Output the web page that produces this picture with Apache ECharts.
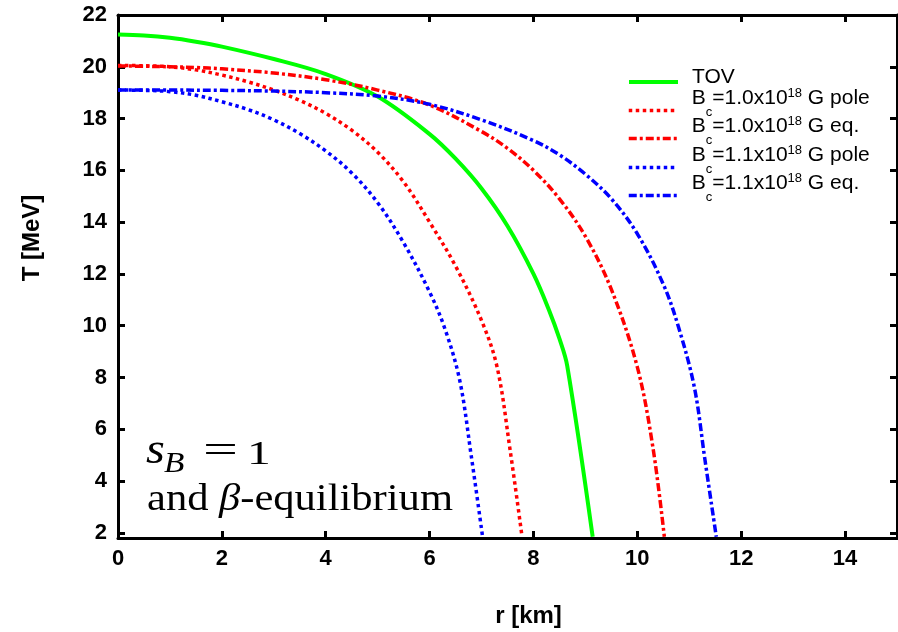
<!DOCTYPE html>
<html>
<head>
<meta charset="utf-8">
<script src="https://cdn.jsdelivr.net/npm/echarts@6/dist/echarts.min.js"></script>
<style>
  html, body { margin: 0; padding: 0; background: #fff; }
  #chart { width: 898px; height: 632px; }
</style>
</head>
<body>
<div id="chart"></div>
<script>
// Tick positions
const xTicks = [0, 2, 4, 6, 8, 10, 12, 14];
const yTicks = [2, 4, 6, 8, 10, 12, 14, 16, 18, 20, 22];

// Temperature profiles T(r): radius in km, temperature in MeV
const tovR = [0, 0.5, 1, 1.5, 2, 3, 4, 5, 6, 6.5, 7, 7.5, 8, 8.3, 8.5, 8.65, 9.14];
const tovT = [21.25, 21.21, 21.12, 20.97, 20.78, 20.3, 19.72, 18.85, 17.4, 16.45, 15.3, 13.85, 12.0, 10.6, 9.5, 8.45, 1.85];

const b10PoleR = [0, 0.5, 1, 1.5, 2, 2.5, 3, 3.5, 4, 4.5, 5, 5.5, 6, 6.5, 7, 7.3, 7.55, 7.78];
const b10PoleT = [20.05, 20.04, 20.0, 19.88, 19.68, 19.42, 19.1, 18.7, 18.2, 17.55, 16.7, 15.55, 14.0, 12.3, 10.2, 8.4, 5.2, 1.85];

const b10EqR = [0, 0.5, 1, 1.5, 2, 3, 4, 5, 6, 7, 7.5, 8, 8.5, 9, 9.5, 10, 10.3, 10.52];
const b10EqT = [20.03, 20.02, 20.0, 19.97, 19.92, 19.76, 19.5, 19.1, 18.52, 17.5, 16.85, 16.0, 14.9, 13.45, 11.4, 8.4, 5.3, 1.85];

const b11PoleR = [0, 0.5, 1, 1.5, 2, 2.5, 3, 3.5, 4, 4.5, 5, 5.5, 6, 6.3, 6.58, 6.8, 7.02];
const b11PoleT = [19.1, 19.09, 19.04, 18.9, 18.65, 18.35, 17.95, 17.42, 16.75, 15.9, 14.75, 13.2, 11.3, 9.85, 7.89, 5.0, 1.85];

const b11EqR = [0, 1, 2, 3, 4, 5, 6, 7, 8, 8.5, 9, 9.5, 10, 10.5, 10.8, 11.1, 11.3, 11.52];
const b11EqT = [19.1, 19.1, 19.09, 19.06, 19.0, 18.87, 18.55, 17.95, 17.15, 16.6, 15.85, 14.9, 13.55, 11.6, 9.9, 7.6, 4.85, 1.85];

const seriesNames = [
  'TOV',
  'Bc=1.0x10^18 G pole',
  'Bc=1.0x10^18 G eq.',
  'Bc=1.1x10^18 G pole',
  'Bc=1.1x10^18 G eq.'
];

const pairs = (r, t) => r.map((v, i) => [v, t[i]]);

const SANS = '"Liberation Sans", Arial, sans-serif';
const SERIF = '"Liberation Serif", "Times New Roman", serif';

const DOTTED = [3.5, 3.5];
const DASHDOT = [8, 3, 3, 3];

const curves = [
  { data: pairs(tovR, tovT), color: '#00ff00', width: 4, type: 'solid' },
  { data: pairs(b10PoleR, b10PoleT), color: '#ff0000', width: 3.5, type: DOTTED },
  { data: pairs(b10EqR, b10EqT), color: '#ff0000', width: 3.5, type: DASHDOT },
  { data: pairs(b11PoleR, b11PoleT), color: '#0000ff', width: 3.5, type: DOTTED },
  { data: pairs(b11EqR, b11EqT), color: '#0000ff', width: 3.5, type: DASHDOT }
];

// Legend text with B subscript c and power-of-ten superscript
function legendLabel(name) {
  const m = /^Bc=(.*)x10\^(\d+) (.*)$/.exec(name);
  if (!m) return '{m|' + name + '}';
  return '{m|B}{sub|c}{m|=' + m[1] + 'x10}{sup|' + m[2] + '}{m| ' + m[3] + '}';
}

const legendRich = {
  m: { fontFamily: SANS, fontSize: 21, color: '#000' },
  sub: { fontFamily: SANS, fontSize: 13, color: '#000', padding: [27, 0, 0, 0] },
  sup: { fontFamily: SANS, fontSize: 13, color: '#000', padding: [0, 0, 10, 0] }
};

const legendTops = [66.5, 87, 115, 144, 172];

const frameLine = { show: true, onZero: false, lineStyle: { color: '#000', width: 3 } };
const tickStyle = { show: true, inside: true, length: 7, lineStyle: { color: '#000', width: 3 } };
const tickLabel = { color: '#000', fontFamily: SANS, fontWeight: 'bold', fontSize: 22 };
const nameStyle = { color: '#000', fontFamily: SANS, fontWeight: 'bold', fontSize: 24 };

const chart = echarts.init(document.getElementById('chart'), null, { renderer: 'canvas' });

chart.setOption({
  backgroundColor: '#fff',
  animation: false,
  grid: { left: 118, right: 1, top: 15, bottom: 94, containLabel: false, outerBoundsMode: 'none' },
  xAxis: [
    {
      type: 'value', position: 'bottom', min: 0, max: 15,
      axisLine: frameLine,
      axisTick: Object.assign({ customValues: xTicks }, tickStyle),
      axisLabel: Object.assign({ customValues: xTicks, margin: 10 }, tickLabel),
      splitLine: { show: false },
      name: 'r [km]', nameLocation: 'middle', nameGap: 66,
      nameTextStyle: Object.assign({ padding: [0, 0, 0, 42] }, nameStyle)
    },
    {
      type: 'value', position: 'top', min: 0, max: 15,
      axisLine: frameLine,
      axisTick: Object.assign({ customValues: xTicks }, tickStyle),
      axisLabel: { show: false },
      splitLine: { show: false }
    }
  ],
  yAxis: [
    {
      type: 'value', position: 'left', min: 1.8, max: 22,
      axisLine: frameLine,
      axisTick: Object.assign({ customValues: yTicks }, tickStyle),
      axisLabel: Object.assign({ customValues: yTicks, margin: 11 }, tickLabel),
      splitLine: { show: false },
      name: 'T [MeV]', nameLocation: 'middle', nameGap: 74,
      nameTextStyle: Object.assign({ padding: [0, 0, 0, 77] }, nameStyle)
    },
    {
      type: 'value', position: 'right', min: 1.8, max: 22,
      axisLine: frameLine,
      axisTick: Object.assign({ customValues: yTicks }, tickStyle),
      axisLabel: { show: false },
      splitLine: { show: false }
    }
  ],
  legend: seriesNames.map((n, i) => ({
    data: [n],
    left: 627,
    top: legendTops[i],
    orient: 'vertical',
    padding: 0,
    itemWidth: 49,
    itemHeight: 14,
    itemGap: 0,
    selectedMode: false,
    itemStyle: { opacity: 0 },
    lineStyle: { width: curves[i].width },
    formatter: legendLabel,
    textStyle: {
      fontFamily: SANS, fontSize: 21, color: '#000',
      padding: i === 0 ? [0, 0, 10, 9] : [0, 0, 24, 9],
      rich: legendRich
    }
  })),
  series: curves.map((c, i) => ({
    type: 'line',
    name: seriesNames[i],
    xAxisIndex: 0,
    yAxisIndex: 0,
    data: c.data,
    symbol: 'none',
    showSymbol: false,
    smooth: 0.35,
    color: c.color,
    lineStyle: { color: c.color, width: c.width, type: c.type },
    z: 2 + i
  })),
  graphic: [
    { type: 'text', x: 146, y: 465 - 0.305 * 44, scaleX: 1.1,
      style: { text: 's', font: 'italic 44px ' + SERIF, fill: '#000', verticalAlign: 'middle' } },
    { type: 'text', x: 164, y: 473 - 0.305 * 29, scaleX: 1.15,
      style: { text: 'B', font: 'italic 29px ' + SERIF, fill: '#000', verticalAlign: 'middle' } },
    { type: 'text', x: 203, y: 465 - 0.305 * 40, scaleX: 1.55,
      style: { text: '=', font: '40px ' + SERIF, fill: '#000', verticalAlign: 'middle' } },
    { type: 'text', x: 247, y: 465 - 0.305 * 34, scaleX: 1.4,
      style: { text: '1', font: '34px ' + SERIF, fill: '#000', verticalAlign: 'middle' } },
    { type: 'text', x: 147, y: 512 - 0.305 * 37, scaleX: 1.15,
      style: {
        text: '{r|and }{g|β}{r|-equilibrium}',
        verticalAlign: 'middle',
        rich: {
          r: { fontFamily: SERIF, fontSize: 37, fill: '#000', color: '#000' },
          g: { fontFamily: SERIF, fontStyle: 'italic', fontSize: 37, fill: '#000', color: '#000' }
        }
      } }
  ]
});
</script>
</body>
</html>
